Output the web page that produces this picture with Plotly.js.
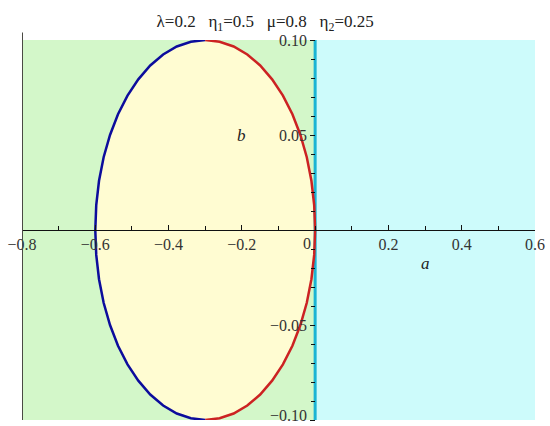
<!DOCTYPE html>
<html>
<head>
<meta charset="utf-8">
<script src="https://cdn.plot.ly/plotly-3.0.1.min.js"></script>
<style>
  body { margin: 0; background: #fff; }
  #tester { width: 550px; height: 426px; }
</style>
</head>
<body>
<div id="tester"></div>
<script>
// curve points (a, b), top to bottom
let redA = [-0.3000, -0.2608, -0.2224, -0.1852, -0.1500, -0.1174, -0.0879, -0.0620, -0.0402, -0.0228, -0.0102, -0.0026, 0.0000,
            -0.0026, -0.0102, -0.0228, -0.0402, -0.0620, -0.0879, -0.1174, -0.1500, -0.1852, -0.2224, -0.2608, -0.3000];
let redB = [0.1000, 0.0991, 0.0966, 0.0924, 0.0866, 0.0793, 0.0707, 0.0609, 0.0500, 0.0383, 0.0259, 0.0131, 0.0000,
            -0.0131, -0.0259, -0.0383, -0.0500, -0.0609, -0.0707, -0.0793, -0.0866, -0.0924, -0.0966, -0.0991, -0.1000];
let blueA = [-0.3000, -0.3392, -0.3776, -0.4148, -0.4500, -0.4826, -0.5121, -0.5380, -0.5598, -0.5772, -0.5898, -0.5974, -0.6000,
             -0.5974, -0.5898, -0.5772, -0.5598, -0.5380, -0.5121, -0.4826, -0.4500, -0.4148, -0.3776, -0.3392, -0.3000];
let blueB = redB;

// regions
let greenA = [-0.8, 0, 0, -0.8];
let greenB = [-0.1, -0.1, 0.1, 0.1];
let cyanA = [0, 0.6, 0.6, 0];
let cyanB = [-0.1, -0.1, 0.1, 0.1];
let boundA = [0, 0];
let boundB = [-0.1, 0.1];

let xTicks = [-0.8, -0.6, -0.4, -0.2, 0.2, 0.4, 0.6];
let xTickText = ['\u22120.8', '\u22120.6', '\u22120.4', '\u22120.2', '0.2', '0.4', '0.6'];
let yTicks = [-0.1, -0.05, 0.05, 0.1];
let yTickText = ['', '\u22120.05', '0.05', '0.10'];

let fillA = blueA.concat(redA.slice().reverse());
let fillB = blueB.concat(redB.slice().reverse());

var green = {
    x: greenA, y: greenB, mode: 'lines', fill: 'toself',
    fillcolor: '#d3f7c9', line: {width: 0}, hoverinfo: 'skip'
};
var cyan = {
    x: cyanA, y: cyanB, mode: 'lines', fill: 'toself',
    fillcolor: '#cdfbfb', line: {width: 0}, hoverinfo: 'skip'
};
var yellow = {
    x: fillA, y: fillB, mode: 'lines', fill: 'toself',
    fillcolor: '#fffcd2', line: {width: 0}, hoverinfo: 'skip'
};
var blue = {
    x: blueA, y: blueB, mode: 'lines', cliponaxis: false,
    line: {color: '#0c0c9c', width: 2.5}
};
var red = {
    x: redA, y: redB, mode: 'lines', cliponaxis: false,
    line: {color: '#cc2222', width: 2.5}
};
var bound = {
    x: boundA, y: boundB, mode: 'lines', cliponaxis: false,
    line: {color: '#1ab4d4', width: 3}
};

var tickFont = {family: 'Liberation Serif', size: 16, color: '#333'};

var baseLayout = {
    width: 550,
    height: 426,
    showlegend: false,
    paper_bgcolor: '#fff',
    plot_bgcolor: '#fff',
    margin: {l: 22, r: 15, t: 40, b: 6, pad: 0},
    title: {
        text: '\u03bb=0.2\u00a0\u00a0\u00a0\u03b7<sub>1</sub>=0.5\u00a0\u00a0\u00a0\u03bc=0.8\u00a0\u00a0\u00a0\u03b7<sub>2</sub>=0.25',
        font: {family: 'Liberation Serif', size: 17, color: '#222'},
        x: 0.474, xanchor: 'center', xref: 'paper',
        y: 0.95, yanchor: 'middle', yref: 'container'
    },
    xaxis: {
        range: [-0.8, 0.6],
        anchor: 'free', position: 0.5,
        showgrid: false, zeroline: false,
        showline: true, linecolor: '#111', linewidth: 1,
        tickmode: 'array', tickvals: xTicks, ticktext: xTickText,
        ticks: 'inside', ticklen: 5, tickcolor: '#111',
        minor: {dtick: 0.1, tick0: 0, ticks: 'inside', ticklen: 4, tickcolor: '#111'},
        tickfont: tickFont
    },
    yaxis: {
        range: [-0.1, 0.1],
        anchor: 'free', position: 0.8 / 1.4,
        showgrid: false, zeroline: false, showline: false,
        tickmode: 'array', tickvals: yTicks, ticktext: yTickText,
        ticks: 'outside', ticklen: 5, tickcolor: '#111',
        minor: {dtick: 0.01, tick0: 0, ticks: 'outside', ticklen: 4, tickcolor: '#111'},
        tickfont: tickFont
    },
    shapes: [
        {type: 'line', xref: 'x', yref: 'paper', x0: -0.8, x1: -0.8, y0: 0, y1: 1.02,
         line: {color: '#4a4a44', width: 2}}
    ],
    annotations: [
        {x: 0, y: 0, xref: 'x', yref: 'y', text: '0', showarrow: false,
         xshift: -8, yshift: -13, font: tickFont},
        {x: 0, y: -0.1, xref: 'x', yref: 'y', text: '\u22120.10', showarrow: false,
         xanchor: 'right', yanchor: 'bottom', xshift: -7, yshift: -5, borderpad: 0, font: tickFont},
        {x: -0.2, y: 0.05, xref: 'x', yref: 'y', text: '<i>b</i>', showarrow: false,
         font: {family: 'Liberation Serif', size: 17, color: '#222'}},
        {x: 0.3, y: -0.0175, xref: 'x', yref: 'y', text: '<i>a</i>', showarrow: false,
         font: {family: 'Liberation Serif', size: 17, color: '#222'}}
    ]
};

Plotly.newPlot('tester', [green, cyan, yellow, bound, blue, red], baseLayout, {staticPlot: true});
</script>
</body>
</html>
